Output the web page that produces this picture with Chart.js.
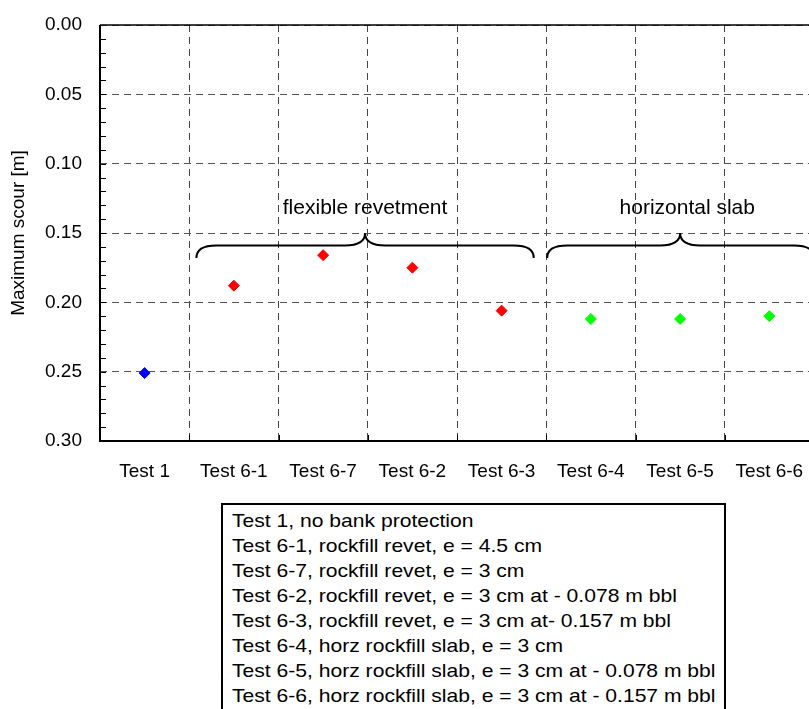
<!DOCTYPE html>
<html>
<head>
<meta charset="utf-8">
<script src="https://cdn.jsdelivr.net/npm/chart.js@4.4.1/dist/chart.umd.min.js"></script>
<style>
  html, body { margin: 0; padding: 0; background: #fff; overflow: hidden; width: 809px; height: 709px; }
  #wrap { position: absolute; left: 0; top: 0; width: 830px; height: 709px; }
  #legendBox {
    position: absolute; left: 221px; top: 503px; width: 505px; height: 230px;
    box-sizing: border-box; border: 2px solid #000; background: #fff;
    padding: 3px 0 0 9px; overflow: hidden;
  }
  #legendInner {
    font-family: "Liberation Sans", Arial, sans-serif; font-size: 19px; line-height: 25px;
    color: #000; transform: scaleX(1.11); transform-origin: left top; white-space: nowrap;
  }
</style>
</head>
<body>
<div id="wrap"><canvas id="c"></canvas></div>
<div id="legendBox"><div id="legendInner"></div></div>
<script>
// ---- data ----
const categories = ['Test 1', 'Test 6-1', 'Test 6-7', 'Test 6-2', 'Test 6-3', 'Test 6-4', 'Test 6-5', 'Test 6-6'];
const noProtectionTests = ['Test 1'];
const noProtectionScour = [0.251];
const revetmentTests = ['Test 6-1', 'Test 6-7', 'Test 6-2', 'Test 6-3'];
const revetmentScour = [0.188, 0.166, 0.175, 0.206];
const slabTests = ['Test 6-4', 'Test 6-5', 'Test 6-6'];
const slabScour = [0.212, 0.212, 0.210];
const yTickValues = [0.00, 0.05, 0.10, 0.15, 0.20, 0.25, 0.30];
const legendLines = [
  'Test 1, no bank protection',
  'Test 6-1, rockfill revet, e = 4.5 cm',
  'Test 6-7, rockfill revet, e = 3 cm',
  'Test 6-2, rockfill revet, e = 3 cm at - 0.078 m bbl',
  'Test 6-3, rockfill revet, e = 3 cm at- 0.157 m bbl',
  'Test 6-4, horz rockfill slab, e = 3 cm',
  'Test 6-5, horz rockfill slab, e = 3 cm at - 0.078 m bbl',
  'Test 6-6, horz rockfill slab, e = 3 cm at - 0.157 m bbl'
];
const groupLabels = ['flexible revetment', 'horizontal slab'];

// ---- annotation geometry (category index / value units) ----
const braceSpecs = [
  { from: 0.58, to: 4.36, tip: 2.47, yEnd: 0.168, yMain: 0.159, yTip: 0.150, labelX: 2.47, labelY: 0.132 },
  { from: 4.51, to: 7.50, tip: 6.00, yEnd: 0.168, yMain: 0.159, yTip: 0.150, labelX: 6.08, labelY: 0.132 }
];

document.getElementById('legendInner').innerHTML = legendLines.map(s => '<div>' + s + '</div>').join('');

const FONT = '"Liberation Sans", Arial, sans-serif';

function toPoints(names, vals) { return names.map((n, i) => ({ x: n, y: vals[i] })); }

function drawBrace(ctx, x0, x1, xt, yEnd, yMain, yTip, r) {
  ctx.beginPath();
  ctx.moveTo(x0, yEnd);
  ctx.quadraticCurveTo(x0, yMain, x0 + r, yMain);
  ctx.lineTo(xt - r, yMain);
  ctx.quadraticCurveTo(xt, yMain, xt, yTip);
  ctx.quadraticCurveTo(xt, yMain, xt + r, yMain);
  ctx.lineTo(x1 - r, yMain);
  ctx.quadraticCurveTo(x1, yMain, x1, yEnd);
  ctx.stroke();
}

const decor = {
  id: 'decor',
  beforeDatasetsDraw(chart) {
    const { ctx, chartArea: a, scales: { x, y } } = chart;
    ctx.save();
    ctx.setLineDash([]);
    ctx.strokeStyle = '#000';
    // minor ticks on y axis (inward)
    ctx.lineWidth = 1;
    const minorStep = 0.01;
    for (let v = minorStep; v < 0.3 - 1e-9; v += minorStep) {
      const py = Math.round(y.getPixelForValue(v)) + 0.5;
      ctx.beginPath(); ctx.moveTo(a.left, py); ctx.lineTo(a.left + 6, py); ctx.stroke();
    }
    // inward ticks at category boundaries on bottom axis
    for (let i = 0; i < categories.length - 1; i++) {
      const px = Math.round((x.getPixelForValue(i) + x.getPixelForValue(i + 1)) / 2) + 0.5;
      ctx.beginPath(); ctx.moveTo(px, a.bottom); ctx.lineTo(px, a.bottom - 6); ctx.stroke();
    }
    // frame
    ctx.lineWidth = 2;
    ctx.beginPath();
    ctx.moveTo(a.left, a.top); ctx.lineTo(a.left, a.bottom); ctx.lineTo(a.right, a.bottom);
    ctx.stroke();
    ctx.lineWidth = 1.5;
    ctx.beginPath(); ctx.moveTo(a.left, a.top); ctx.lineTo(a.right, a.top); ctx.stroke();
    // braces + labels
    ctx.lineWidth = 2;
    ctx.font = '21px ' + FONT;
    ctx.fillStyle = '#000';
    ctx.textAlign = 'center';
    ctx.textBaseline = 'middle';
    braceSpecs.forEach((b, k) => {
      drawBrace(ctx,
        x.getPixelForValue(b.from), x.getPixelForValue(b.to), x.getPixelForValue(b.tip),
        y.getPixelForValue(b.yEnd), y.getPixelForValue(b.yMain), y.getPixelForValue(b.yTip), 20);
      ctx.fillText(groupLabels[k], x.getPixelForValue(b.labelX), y.getPixelForValue(b.labelY));
    });
    ctx.restore();
  }
};

const pointStyleCommon = { showLine: false, pointStyle: 'rectRot', pointRadius: 5.5, pointBorderWidth: 1, pointHoverRadius: 5.5 };

new Chart(document.getElementById('c'), {
  type: 'line',
  data: {
    labels: categories,
    datasets: [
      Object.assign({ label: 'no protection', data: toPoints(noProtectionTests, noProtectionScour),
        backgroundColor: '#0000ff', borderColor: '#0000ff' }, pointStyleCommon),
      Object.assign({ label: 'revetment', data: toPoints(revetmentTests, revetmentScour),
        backgroundColor: '#ff0000', borderColor: '#ff0000' }, pointStyleCommon),
      Object.assign({ label: 'slab', data: toPoints(slabTests, slabScour),
        backgroundColor: '#00ff00', borderColor: '#00ff00' }, pointStyleCommon)
    ]
  },
  options: {
    responsive: true,
    maintainAspectRatio: false,
    animation: false,
    events: [],
    layout: { padding: { left: 0, right: 16, top: 25, bottom: 218 } },
    plugins: { legend: { display: false }, tooltip: { enabled: false } },
    scales: {
      x: {
        type: 'category',
        offset: true,
        grid: { offset: true, color: '#444', lineWidth: 1, drawTicks: false },
        border: { display: false, dash: [7, 5] },
        ticks: { color: '#000', font: { family: FONT, size: 19 }, padding: 19, maxRotation: 0, autoSkip: false },
        afterFit: s => { s.height = 50; }
      },
      y: {
        reverse: true,
        min: 0,
        max: 0.3,
        afterBuildTicks: s => { s.ticks = yTickValues.map(v => ({ value: v })); },
        grid: { color: '#555', lineWidth: 1, drawTicks: false },
        border: { display: false, dash: [7, 5] },
        ticks: { color: '#000', font: { family: FONT, size: 19 }, padding: 18,
          callback: v => Number(v).toFixed(2) },
        title: { display: true, text: 'Maximum scour [m]', color: '#000', font: { family: FONT, size: 19 }, padding: { top: 7, bottom: 0 } },
        afterFit: s => { s.width = 100; s.paddingTop = 0; s.paddingBottom = 0; }
      }
    }
  },
  plugins: [decor]
});
</script>
</body>
</html>
